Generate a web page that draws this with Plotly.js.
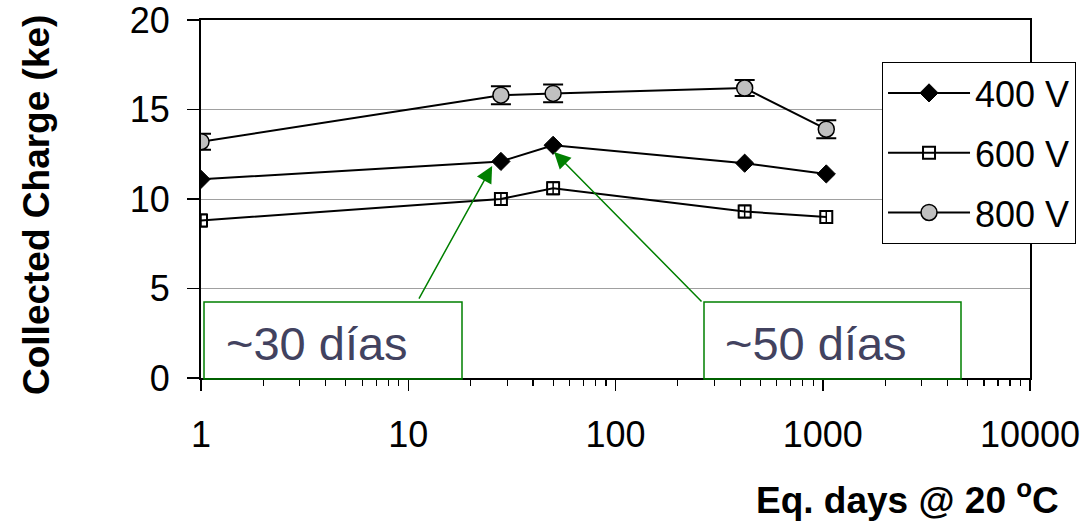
<!DOCTYPE html>
<html>
<head>
<meta charset="utf-8">
<script src="https://cdn.plot.ly/plotly-3.0.1.min.js"></script>
<style>html,body{margin:0;padding:0;background:#fff;}#chart{width:1091px;height:523px;}</style>
</head>
<body>
<div id="chart"></div>
<script>
// ---- data ----
var days = [1, 28, 50, 420, 1040];
var q400 = [11.1, 12.1, 13.0, 12.0, 11.4];
var q600 = [8.8, 10.0, 10.6, 9.3, 9.0];
var q800 = [13.2, 15.8, 15.9, 16.2, 13.9];
var err600 = [0.35, 0.35, 0.35, 0.35, 0.35];
var err800 = [0.45, 0.5, 0.5, 0.45, 0.5];
var seriesNames = ["400 V", "600 V", "800 V"];
var xTickVals = [1, 10, 100, 1000, 10000];
var xTickText = ["1", "10", "100", "1000", "10000"];
var yTickVals = [0, 5, 10, 15, 20];
var notes = ["~30 días", "~50 días"];
var xTitle = "Eq. days @ 20 <sup>o</sup>C";
var yTitle = "Collected Charge (ke)";

var FONT = "Liberation Sans, Arial, sans-serif";
var GREEN = "#008000";

var traces = [
  {x: days, y: q400, name: seriesNames[0], type: "scatter", mode: "lines+markers", legendgroup: "a",
   line: {color: "#000", width: 2},
   marker: {symbol: "diamond", size: 14, color: "#000", line: {color: "#000", width: 1}}},
  {x: days, y: q600, name: seriesNames[1], type: "scatter", mode: "lines+markers", legendgroup: "b",
   line: {color: "#000", width: 2},
   error_y: {type: "data", array: err600, visible: true, color: "#000", thickness: 1.5, width: 6},
   marker: {symbol: "square-open", size: 12, color: "#000", line: {color: "#000", width: 2}}},
  {x: days, y: q800, name: seriesNames[2], type: "scatter", mode: "lines+markers", legendgroup: "c",
   line: {color: "#000", width: 2},
   error_y: {type: "data", array: err800, visible: true, color: "#000", thickness: 2, width: 10},
   marker: {symbol: "circle", size: 16, color: "#c0c0c0", line: {color: "#000", width: 1.5}}}
];

var layout = {
  width: 1091, height: 523,
  margin: {l: 201, r: 61, t: 20, b: 145},
  paper_bgcolor: "#fff", plot_bgcolor: "#fff",
  font: {family: FONT, color: "#000", size: 36},
  showlegend: true,
  legend: {x: 0.8215, y: 0.8827, xanchor: "left", yanchor: "top",
           bgcolor: "#fff", bordercolor: "#000", borderwidth: 1,
           font: {family: FONT, size: 36, color: "#000"},
           itemwidth: 82, tracegroupgap: 10, traceorder: "grouped"},
  xaxis: {type: "log", range: [0, 4], tickvals: xTickVals, ticktext: xTickText,
          ticks: "outside", ticklen: 11, tickwidth: 1.5, tickcolor: "#000",
          showline: true, linecolor: "#000", linewidth: 2, mirror: true,
          showgrid: false, zeroline: false, ticklabelstandoff: 13, ticklabeloverflow: "allow",
          tickfont: {family: FONT, size: 36, color: "#000"},
          minor: {ticks: "outside", ticklen: 6, tickwidth: 1.2, tickcolor: "#000", dtick: "D1", showgrid: false}},
  yaxis: {range: [0, 20], tickvals: yTickVals,
          ticks: "outside", ticklen: 12, tickwidth: 1.5, tickcolor: "#000",
          showline: true, linecolor: "#000", linewidth: 2, mirror: true,
          showgrid: true, gridcolor: "#a0a0a0", gridwidth: 1, zeroline: false,
          ticklabelstandoff: 10, ticklabeloverflow: "allow",
          tickfont: {family: FONT, size: 36, color: "#000"}},
  shapes: [
    {type: "rect", xref: "paper", yref: "paper", x0: (204-201)/829, x1: (462-201)/829,
     y0: (378-379)/358, y1: (378-302)/358, line: {color: GREEN, width: 1.5}, fillcolor: "rgba(255,255,255,0)", layer: "above"},
    {type: "rect", xref: "paper", yref: "paper", x0: (704-201)/829, x1: (961-201)/829,
     y0: (378-379)/358, y1: (378-302)/358, line: {color: GREEN, width: 1.5}, fillcolor: "rgba(255,255,255,0)", layer: "above"}
  ],
  annotations: [
    {xref: "paper", yref: "paper", x: (224-201)/829, y: (378-343)/358, xanchor: "left", yanchor: "middle",
     text: notes[0], showarrow: false, font: {family: FONT, size: 47, color: "#42425f"}},
    {xref: "paper", yref: "paper", x: (723-201)/829, y: (378-343)/358, xanchor: "left", yanchor: "middle",
     text: notes[1], showarrow: false, font: {family: FONT, size: 47, color: "#42425f"}},
    {xref: "x", yref: "y", x: Math.log10(25.4), y: 11.84, text: "", showarrow: true,
     ax: -74, ay: 134, arrowcolor: GREEN, arrowwidth: 1.5, arrowhead: 2, arrowsize: 2.2, standoff: 0},
    {xref: "x", yref: "y", x: Math.log10(50.5), y: 12.63, text: "", showarrow: true,
     ax: 149, ay: 151, arrowcolor: GREEN, arrowwidth: 1.5, arrowhead: 2, arrowsize: 2.2, standoff: 0},
    {xref: "paper", yref: "paper", x: (37-201)/829, y: (378-205)/358, xanchor: "center", yanchor: "middle",
     text: "<b>" + yTitle + "</b>", textangle: -90, showarrow: false, font: {family: FONT, size: 37, color: "#000"}},
    {xref: "paper", yref: "paper", x: (1061-201)/829, y: (378-497)/358, xanchor: "right", yanchor: "middle",
     text: "<b>" + xTitle + "</b>", showarrow: false, font: {family: FONT, size: 37, color: "#000"}}
  ]
};

Plotly.newPlot("chart", traces, layout, {displayModeBar: false, staticPlot: true});
</script>
</body>
</html>
